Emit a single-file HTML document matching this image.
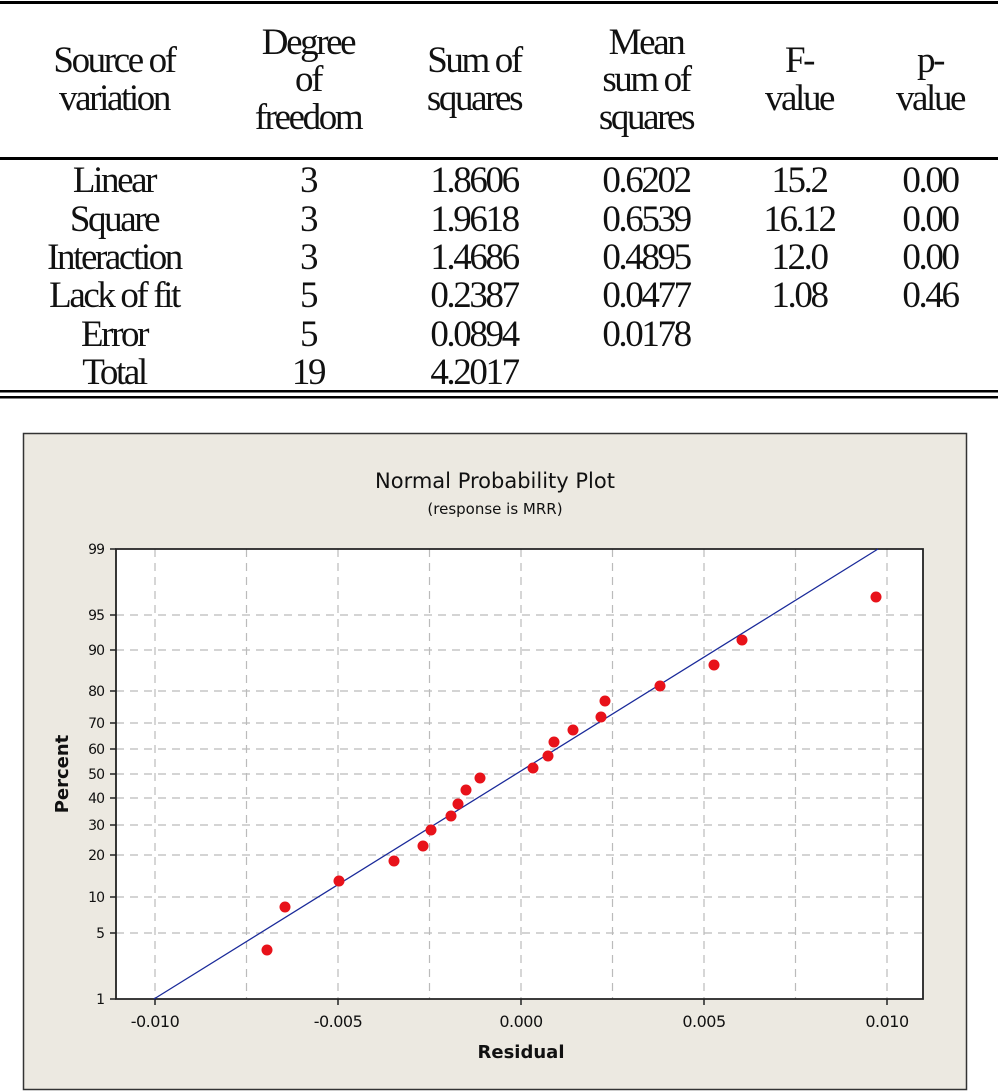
<!DOCTYPE html>
<html><head><meta charset="utf-8"><style>
html,body{margin:0;padding:0;background:#fff}
svg{display:block}
.t{font-family:"Liberation Serif",serif;font-size:37px;letter-spacing:-2.4px;fill:#111;text-anchor:middle}
.c{font-family:"DejaVu Sans","Liberation Sans",sans-serif;fill:#111}
</style></head><body>
<svg width="1008" height="1091" viewBox="0 0 1008 1091" xmlns="http://www.w3.org/2000/svg">
<rect width="1008" height="1091" fill="#fff"/>
<rect x="0" y="1" width="998" height="3" fill="#000"/>
<rect x="0" y="157" width="998" height="3" fill="#000"/>
<rect x="0" y="390" width="998" height="2.5" fill="#000"/>
<rect x="0" y="396" width="998" height="2.5" fill="#000"/>
<text class="t" x="114" y="72">Source of</text>
<text class="t" x="114" y="110">variation</text>
<text class="t" x="308" y="54">Degree</text>
<text class="t" x="308" y="91">of</text>
<text class="t" x="308" y="129">freedom</text>
<text class="t" x="474" y="72">Sum of</text>
<text class="t" x="474" y="110">squares</text>
<text class="t" x="646" y="54">Mean</text>
<text class="t" x="646" y="91">sum of</text>
<text class="t" x="646" y="129">squares</text>
<text class="t" x="799" y="72">F-</text>
<text class="t" x="799" y="110">value</text>
<text class="t" x="930" y="72">p-</text>
<text class="t" x="930" y="110">value</text>
<text class="t" x="114" y="192">Linear</text><text class="t" x="308" y="192">3</text><text class="t" x="474" y="192">1.8606</text><text class="t" x="646" y="192">0.6202</text><text class="t" x="799" y="192">15.2</text><text class="t" x="930" y="192">0.00</text>
<text class="t" x="114" y="231">Square</text><text class="t" x="308" y="231">3</text><text class="t" x="474" y="231">1.9618</text><text class="t" x="646" y="231">0.6539</text><text class="t" x="799" y="231">16.12</text><text class="t" x="930" y="231">0.00</text>
<text class="t" x="114" y="269">Interaction</text><text class="t" x="308" y="269">3</text><text class="t" x="474" y="269">1.4686</text><text class="t" x="646" y="269">0.4895</text><text class="t" x="799" y="269">12.0</text><text class="t" x="930" y="269">0.00</text>
<text class="t" x="114" y="307">Lack of fit</text><text class="t" x="308" y="307">5</text><text class="t" x="474" y="307">0.2387</text><text class="t" x="646" y="307">0.0477</text><text class="t" x="799" y="307">1.08</text><text class="t" x="930" y="307">0.46</text>
<text class="t" x="114" y="346">Error</text><text class="t" x="308" y="346">5</text><text class="t" x="474" y="346">0.0894</text><text class="t" x="646" y="346">0.0178</text>
<text class="t" x="114" y="384">Total</text><text class="t" x="308" y="384">19</text><text class="t" x="474" y="384">4.2017</text>
<rect x="23.5" y="433.5" width="943" height="656" fill="#ece9e1" stroke="#333" stroke-width="1.5"/>
<text class="c" x="495" y="488" font-size="21" text-anchor="middle">Normal Probability Plot</text>
<text class="c" x="495" y="514" font-size="15" text-anchor="middle" fill="#333">(response is MRR)</text>
<rect x="116" y="549" width="807" height="450" fill="#fff"/>
<g stroke="#bbb" stroke-width="1.2" stroke-dasharray="8,6">
<line x1="155" y1="549" x2="155" y2="999"/><line x1="246.5" y1="549" x2="246.5" y2="999"/>
<line x1="338" y1="549" x2="338" y2="999"/><line x1="429.5" y1="549" x2="429.5" y2="999"/>
<line x1="521" y1="549" x2="521" y2="999"/><line x1="612.5" y1="549" x2="612.5" y2="999"/>
<line x1="704" y1="549" x2="704" y2="999"/><line x1="795.5" y1="549" x2="795.5" y2="999"/>
<line x1="887" y1="549" x2="887" y2="999"/>
<line x1="116" y1="615" x2="923" y2="615"/><line x1="116" y1="650" x2="923" y2="650"/>
<line x1="116" y1="691" x2="923" y2="691"/><line x1="116" y1="723" x2="923" y2="723"/>
<line x1="116" y1="749" x2="923" y2="749"/><line x1="116" y1="774" x2="923" y2="774"/>
<line x1="116" y1="798" x2="923" y2="798"/><line x1="116" y1="825" x2="923" y2="825"/>
<line x1="116" y1="855" x2="923" y2="855"/><line x1="116" y1="897" x2="923" y2="897"/>
<line x1="116" y1="933" x2="923" y2="933"/>
</g>
<path d="M116,549 H923 V999 H116 Z" fill="none" stroke="#222" stroke-width="1.8"/>
<g stroke="#222" stroke-width="1.5">
<line x1="110" y1="549" x2="116" y2="549"/><line x1="110" y1="615" x2="116" y2="615"/><line x1="110" y1="650" x2="116" y2="650"/>
<line x1="110" y1="691" x2="116" y2="691"/><line x1="110" y1="723" x2="116" y2="723"/><line x1="110" y1="749" x2="116" y2="749"/>
<line x1="110" y1="774" x2="116" y2="774"/><line x1="110" y1="798" x2="116" y2="798"/><line x1="110" y1="825" x2="116" y2="825"/>
<line x1="110" y1="855" x2="116" y2="855"/><line x1="110" y1="897" x2="116" y2="897"/><line x1="110" y1="933" x2="116" y2="933"/>
<line x1="110" y1="999" x2="116" y2="999"/>
<line x1="155" y1="999" x2="155" y2="1005"/><line x1="338" y1="999" x2="338" y2="1005"/><line x1="521" y1="999" x2="521" y2="1005"/>
<line x1="704" y1="999" x2="704" y2="1005"/><line x1="887" y1="999" x2="887" y2="1005"/>
</g>
<g class="c" font-size="14" text-anchor="end" letter-spacing="-1">
<text x="104" y="554">99</text><text x="104" y="620">95</text><text x="104" y="655">90</text><text x="104" y="696">80</text>
<text x="104" y="728">70</text><text x="104" y="754">60</text><text x="104" y="779">50</text><text x="104" y="803">40</text>
<text x="104" y="830">30</text><text x="104" y="860">20</text><text x="104" y="902">10</text><text x="104" y="938">5</text>
<text x="104" y="1004">1</text>
</g>
<g class="c" font-size="16" text-anchor="middle" letter-spacing="-0.5">
<text x="155" y="1027">-0.010</text><text x="338" y="1027">-0.005</text><text x="521" y="1027">0.000</text>
<text x="704" y="1027">0.005</text><text x="887" y="1027">0.010</text>
</g>
<text class="c" x="521" y="1058" font-size="18" font-weight="bold" text-anchor="middle">Residual</text>
<text class="c" x="68" y="774" font-size="18" font-weight="bold" text-anchor="middle" transform="rotate(-90 68 774)">Percent</text>
<line x1="154" y1="999" x2="878" y2="549" stroke="#1a2a9a" stroke-width="1.3"/>
<g fill="#e8121a">
<circle cx="267" cy="950" r="5.5"/><circle cx="285" cy="907" r="5.5"/><circle cx="339" cy="881" r="5.5"/>
<circle cx="394" cy="861" r="5.5"/><circle cx="423" cy="846" r="5.5"/><circle cx="431" cy="830" r="5.5"/>
<circle cx="451" cy="816" r="5.5"/><circle cx="458" cy="804" r="5.5"/><circle cx="466" cy="790" r="5.5"/>
<circle cx="480" cy="778" r="5.5"/><circle cx="533" cy="768" r="5.5"/><circle cx="548" cy="756" r="5.5"/>
<circle cx="554" cy="742" r="5.5"/><circle cx="573" cy="730" r="5.5"/><circle cx="601" cy="717" r="5.5"/>
<circle cx="605" cy="701" r="5.5"/><circle cx="660" cy="686" r="5.5"/><circle cx="714" cy="665" r="5.5"/>
<circle cx="742" cy="640" r="5.5"/><circle cx="876" cy="597" r="5.5"/>
</g>
</svg>
</body></html>
